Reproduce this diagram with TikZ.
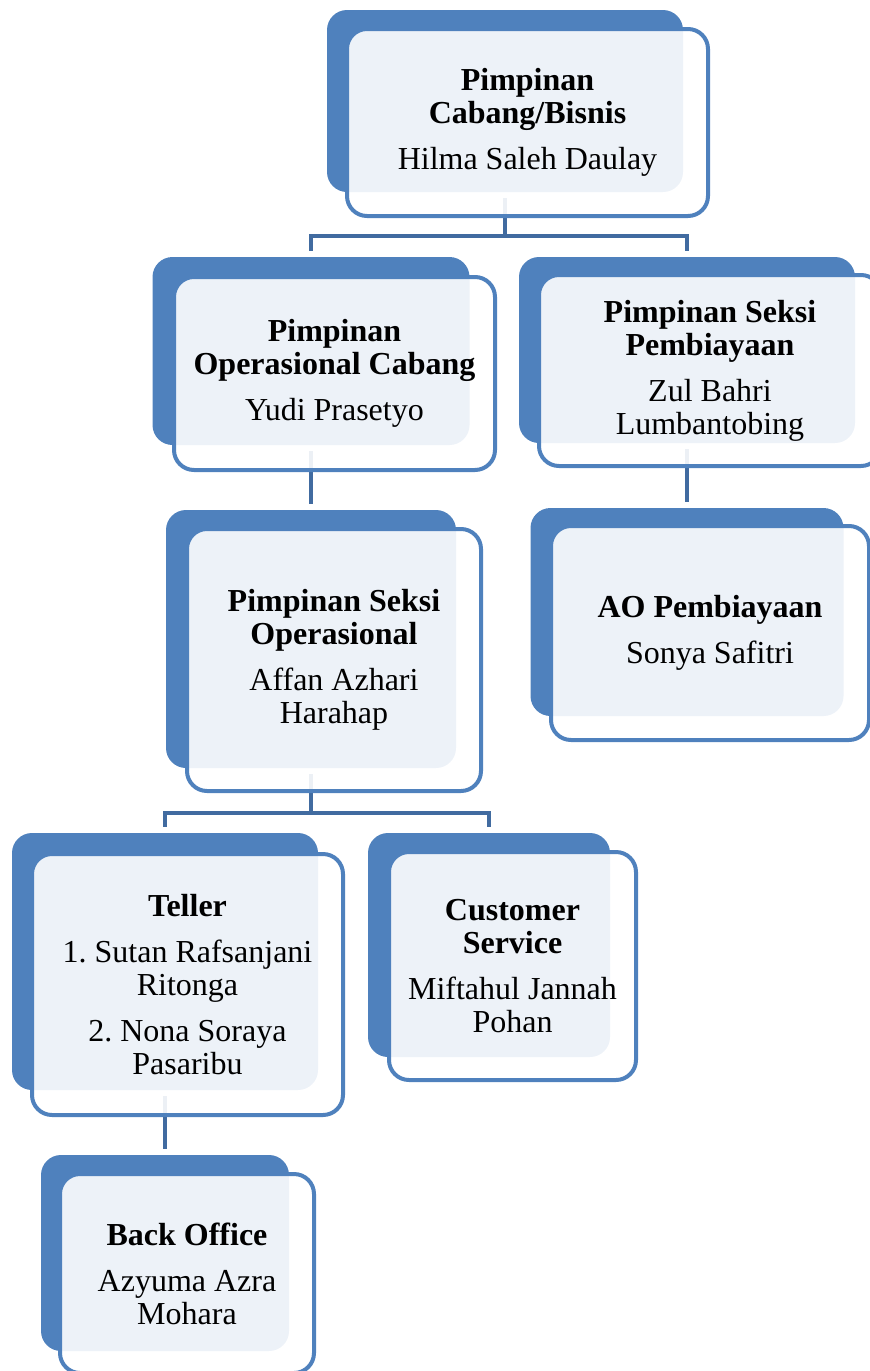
\documentclass[tikz,border=0pt]{standalone}
\usepackage{fontspec}
\setmainfont{Liberation Serif}
\usepackage{tikz}
\usetikzlibrary{backgrounds}
\definecolor{kotak}{RGB}{79,129,189}
\definecolor{garis}{RGB}{65,107,160}
\newcommand{\jabatan}[1]{\textbf{#1}}
\frenchspacing

\begin{document}
\begin{tikzpicture}[x=1pt,y=-1pt,
	belakang/.style={rounded corners=20pt,fill=kotak,inner sep=0pt},
	depan/.style={rounded corners=20pt,draw=kotak,line width=4pt,fill=white,fill opacity=0.9,
		text opacity=1,align=center,inner sep=0pt,font=\fontsize{32}{33}\selectfont},
	garisorg/.style={draw=garis,line width=4.5pt,shorten <=6pt,shorten >=6pt}]
		\useasboundingbox (0,0) rectangle (870,1371);
		\clip (0,0) rectangle (870,1371);
		% Pimpinan Cabang
		\node[belakang,minimum width=356pt,minimum height=182pt] (pcbb) at (505,101) {};
		\node[depan,minimum width=361pt,minimum height=187pt] (pcb) at (527.5,122.5)
			{\jabatan{Pimpinan}\\\jabatan{Cabang/Bisnis}\\[13pt]Hilma Saleh Daulay};
		% Operasional
		\node[belakang,minimum width=317pt,minimum height=188pt] (pocb) at (311,351) {};
		\node[depan,minimum width=321pt,minimum height=193pt] (poc) at (334.5,373.5)
			{\jabatan{Pimpinan}\\\jabatan{Operasional Cabang}\\[13pt]Yudi Prasetyo};
		\node[belakang,minimum width=290pt,minimum height=258pt] (psob) at (311,639) {};
		\node[depan,minimum width=294pt,minimum height=262pt] (pso) at (334,660)
			{\jabatan{Pimpinan Seksi}\\\jabatan{Operasional}\\[13pt]Affan Azhari\\Harahap};
		% Pembiayaan
		\node[belakang,minimum width=336pt,minimum height=186pt] (pspb) at (687,350) {};
		\node[depan,minimum width=342pt,minimum height=191pt] (psp) at (710,370.5)
			{\jabatan{Pimpinan Seksi}\\\jabatan{Pembiayaan}\\[13pt]Zul Bahri\\Lumbantobing};
		\node[belakang,minimum width=313pt,minimum height=208pt] (aopb) at (687,612) {};
		\node[depan,minimum width=318pt,minimum height=214pt] (aop) at (710,633)
			{\jabatan{AO Pembiayaan}\\[13pt]Sonya Safitri};
		% Teller, CS, Back Office
		\node[belakang,minimum width=306pt,minimum height=257pt] (telb) at (165,961.5) {};
		\node[depan,minimum width=311pt,minimum height=261pt] (tel) at (187.5,984.5)
			{\jabatan{Teller}\\[13pt]1. Sutan Rafsanjani\\Ritonga\\[13pt]2. Nona Soraya\\Pasaribu};
		\node[belakang,minimum width=242pt,minimum height=224pt] (csb) at (489,945) {};
		\node[depan,minimum width=247pt,minimum height=228pt] (cs) at (512.5,966)
			{\jabatan{Customer}\\\jabatan{Service}\\[13pt]Miftahul Jannah\\Pohan};
		\node[belakang,minimum width=248pt,minimum height=196pt] (bob) at (165,1253) {};
		\node[depan,minimum width=254pt,minimum height=199pt] (bo) at (187,1273.5)
			{\jabatan{Back Office}\\[13pt]Azyuma Azra\\Mohara};
		% garis
		\begin{scope}[on background layer]
			\draw[garisorg] (pcbb.south) -- ++(0,44) -| (pocb.north);
			\draw[garisorg] (pcbb.south) -- ++(0,44) -| (pspb.north);
			\draw[garisorg] (pocb.south) -- (psob.north);
			\draw[garisorg] (pspb.south) -- (aopb.north);
			\draw[garisorg] (psob.south) -- ++(0,45) -| (telb.north);
			\draw[garisorg] (psob.south) -- ++(0,45) -| (csb.north);
			\draw[garisorg] (telb.south) -- (bob.north);
		\end{scope}
	\end{tikzpicture}
\end{document}
